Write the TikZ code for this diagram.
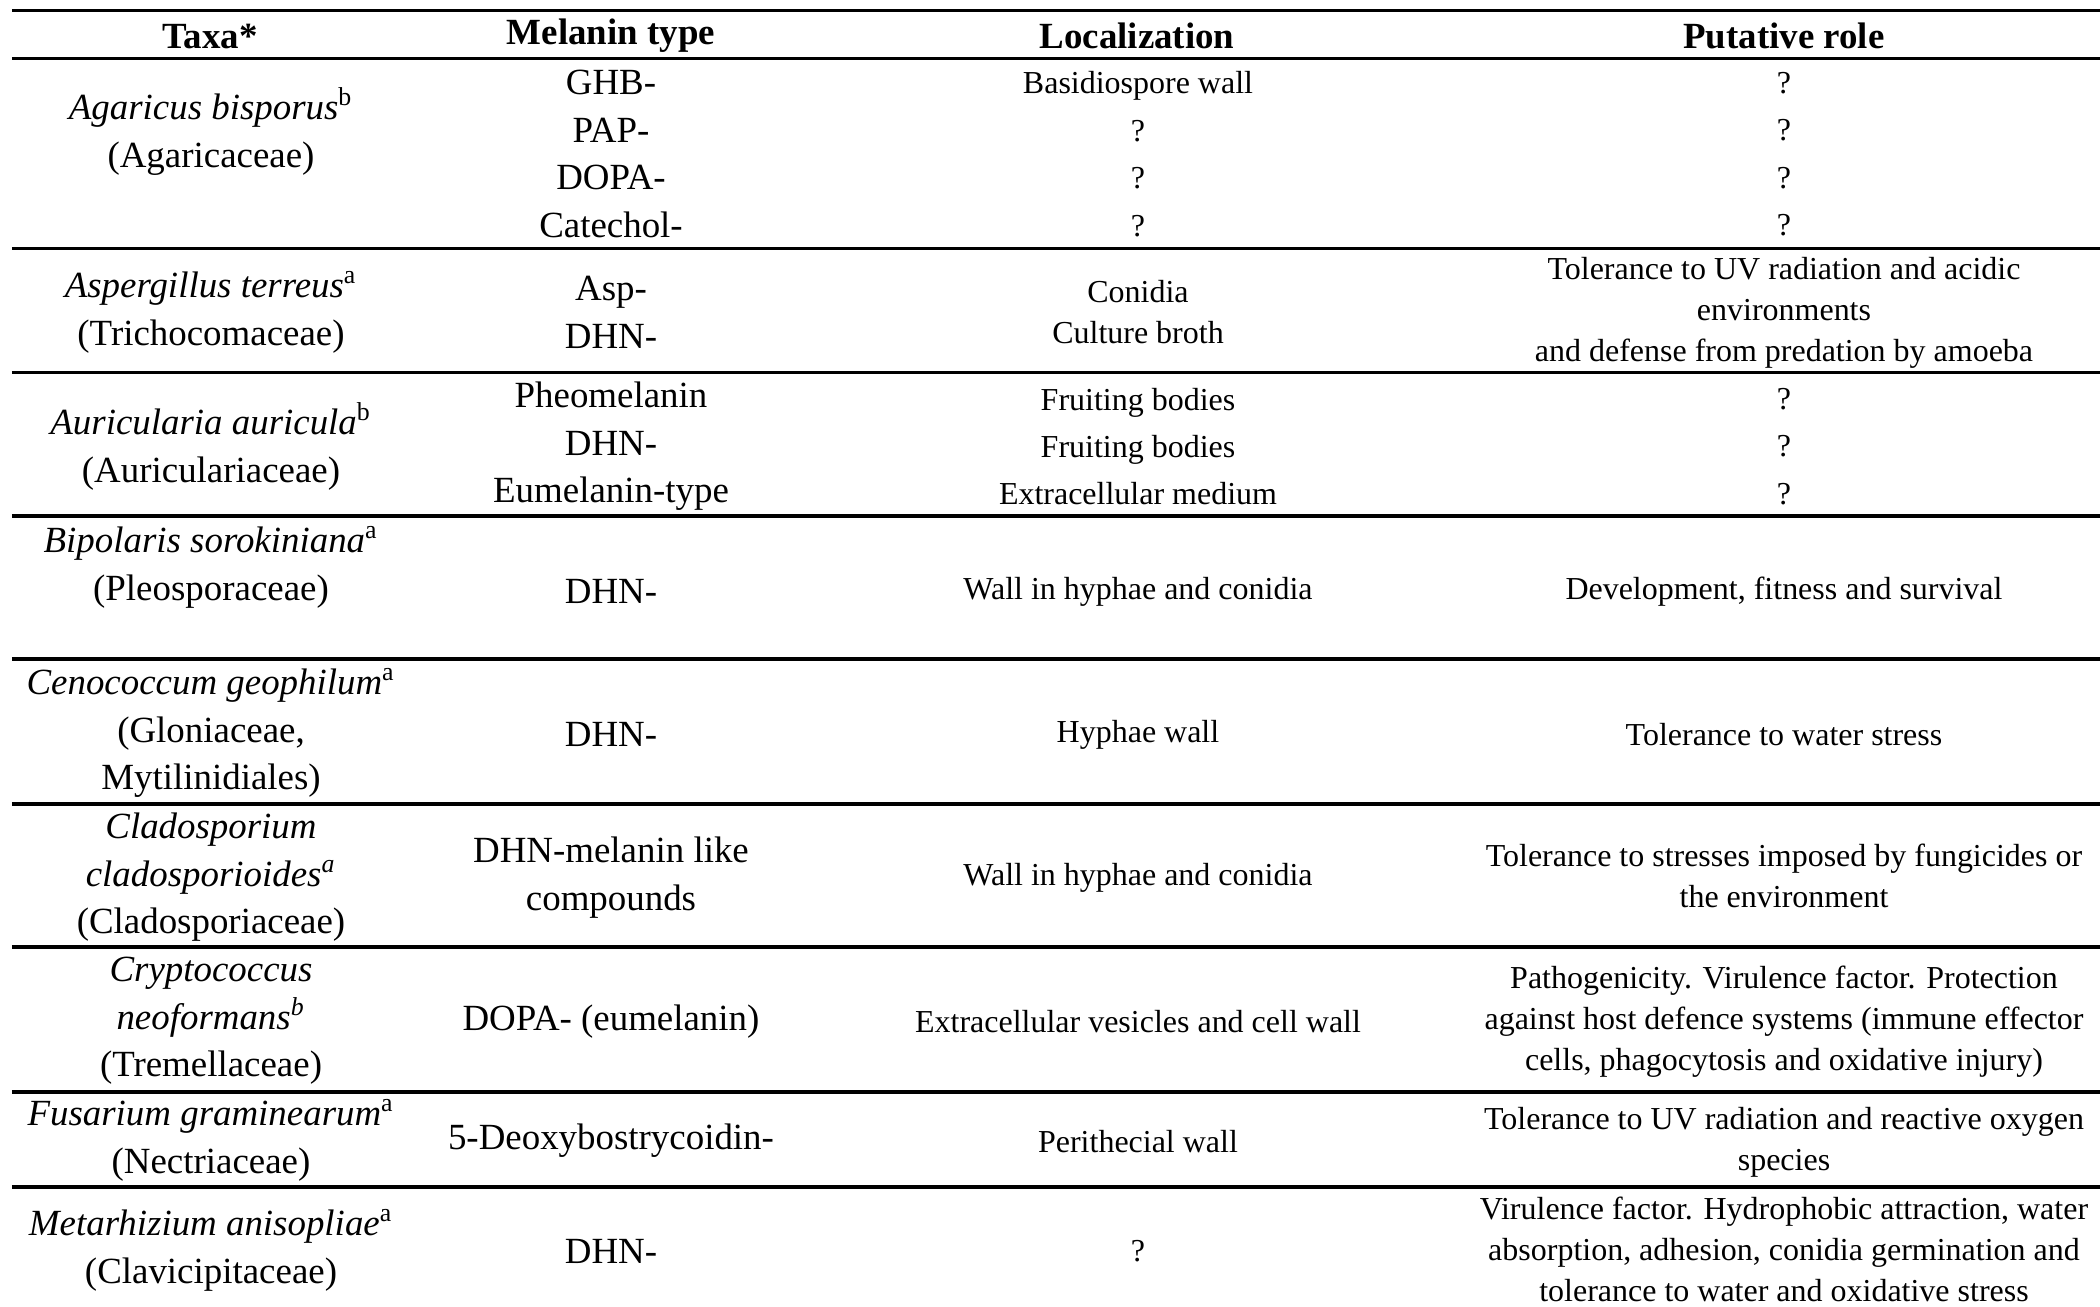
\documentclass[tikz,border=0pt]{standalone}
\usepackage{fontspec}
\setmainfont{Liberation Serif}
\usepackage{tikz}

\begin{document}
\begin{tikzpicture}[x=1cm,y=1cm]

            \tikzset{
                cell/.style={inner sep=0pt, align=center, yshift=-0.3pt, font=\fontsize{10.5}{13.5}\selectfont},
                cellsmall/.style={inner sep=0pt, align=center, yshift=-0.3pt, font=\fontsize{9.1}{11.7}\selectfont},
                cellsub/.style={inner sep=0pt, align=center, yshift=-0.3pt, font=\fontsize{9.1}{13.5}\selectfont},
                headcell/.style={inner sep=0pt, yshift=-0.3pt, font=\bfseries\fontsize{10.5}{13.5}\selectfont},
                rowrule/.style={line width=0.9pt}
            }

            \fill[white] (0,0) rectangle (21,-13.07);
            \useasboundingbox (0,0) rectangle (21,-13.07);

            % horizontal rules
            \foreach \y in {0.107,0.583,2.483,3.723,5.16,6.59,8.04,9.47,10.92,11.87}
                \draw[rowrule] (0.12,-\y) -- (21,-\y);

            % header
            \node[headcell] (hTaxa) at (2.10,-0.35) {Taxa*};
            \node[headcell] (hMelanin) at (6.11,-0.35) {Melanin type};
            \node[headcell] (hLocal) at (11.37,-0.35) {Localization};
            \node[headcell] (hRole) at (17.84,-0.35) {Putative role};

            % Agaricus
            \node[cell] (tx1) at (2.11,-1.305) {\textit{Agaricus bisporus}\textsuperscript{b}\\(Agaricaceae)};
            \node[cell] (mt1) at (6.11,-1.53) {GHB-\\PAP-\\DOPA-\\Catechol-};
            \node[cellsub] (lc1) at (11.38,-1.53) {Basidiospore wall\\?\\?\\?};
            \node[cellsub] (pr1) at (17.84,-1.53) {?\\?\\?\\?};

            % Aspergillus
            \node[cell] (tx2) at (2.11,-3.115) {\textit{Aspergillus terreus}\textsuperscript{a}\\(Trichocomaceae)};
            \node[cell] (mt2) at (6.11,-3.115) {Asp-\\DHN-};
            \node[cellsmall] (lc2) at (11.38,-3.11) {Conidia\\Culture broth};
            \node[cellsmall] (pr2) at (17.84,-3.12) {Tolerance to UV radiation and acidic\\environments\\and defense from predation by amoeba};

            % Auricularia
            \node[cell] (tx3) at (2.11,-4.455) {\textit{Auricularia auricula}\textsuperscript{b}\\(Auriculariaceae)};
            \node[cell] (mt3) at (6.11,-4.455) {Pheomelanin\\DHN-\\Eumelanin-type};
            \node[cellsub] (lc3) at (11.38,-4.455) {Fruiting bodies\\Fruiting bodies\\Extracellular medium};
            \node[cellsub] (pr3) at (17.84,-4.455) {?\\?\\?};

            % Bipolaris
            \node[cell] (tx4) at (2.11,-5.665) {\textit{Bipolaris sorokiniana}\textsuperscript{a}\\(Pleosporaceae)};
            \node[cell] (mt4) at (6.11,-5.90) {DHN-};
            \node[cellsmall] (lc4) at (11.38,-5.91) {Wall in hyphae and conidia};
            \node[cellsmall] (pr4) at (17.84,-5.91) {Development, fitness and survival};

            % Cenococcum
            \node[cell] (tx5) at (2.11,-7.32) {\textit{Cenococcum geophilum}\textsuperscript{a}\\(Gloniaceae,\\Mytilinidiales)};
            \node[cell] (mt5) at (6.11,-7.33) {DHN-};
            \node[cellsmall] (lc5) at (11.38,-7.34) {Hyphae wall};
            \node[cellsmall] (pr5) at (17.84,-7.33) {Tolerance to water stress};

            % Cladosporium
            \node[cell] (tx6) at (2.11,-8.765) {\textit{Cladosporium}\\\textit{cladosporioides\textsuperscript{a}}\\(Cladosporiaceae)};
            \node[cell] (mt6) at (6.11,-8.765) {DHN-melanin like\\compounds};
            \node[cellsmall] (lc6) at (11.38,-8.77) {Wall in hyphae and conidia};
            \node[cellsmall] (pr6) at (17.84,-8.75) {Tolerance to stresses imposed by fungicides or\\the environment};

            % Cryptococcus
            \node[cell] (tx7) at (2.11,-10.20) {\textit{Cryptococcus}\\\textit{neoformans\textsuperscript{b}}\\(Tremellaceae)};
            \node[cell] (mt7) at (6.11,-10.21) {DOPA- (eumelanin)};
            \node[cellsmall] (lc7) at (11.38,-10.20) {Extracellular vesicles and cell wall};
            \node[cellsmall] (pr7) at (17.84,-10.21) {Pathogenicity. Virulence factor. Protection\\against host defence systems (immune effector\\cells, phagocytosis and oxidative injury)};

            % Fusarium
            \node[cell] (tx8) at (2.11,-11.395) {\textit{Fusarium graminearum}\textsuperscript{a}\\(Nectriaceae)};
            \node[cell] (mt8) at (6.11,-11.40) {5-Deoxybostrycoidin-};
            \node[cellsmall] (lc8) at (11.38,-11.40) {Perithecial wall};
            \node[cellsmall] (pr8) at (17.84,-11.415) {Tolerance to UV radiation and reactive oxygen\\species};

            % Metarhizium
            \node[cell] (tx9) at (2.11,-12.495) {\textit{Metarhizium anisopliae}\textsuperscript{a}\\(Clavicipitaceae)};
            \node[cell] (mt9) at (6.11,-12.50) {DHN-};
            \node[cellsmall] (lc9) at (11.38,-12.50) {?};
            \node[cellsmall] (pr9) at (17.84,-12.48) {Virulence factor. Hydrophobic attraction, water\\absorption, adhesion, conidia germination and\\tolerance to water and oxidative stress};

        \end{tikzpicture}
\end{document}
